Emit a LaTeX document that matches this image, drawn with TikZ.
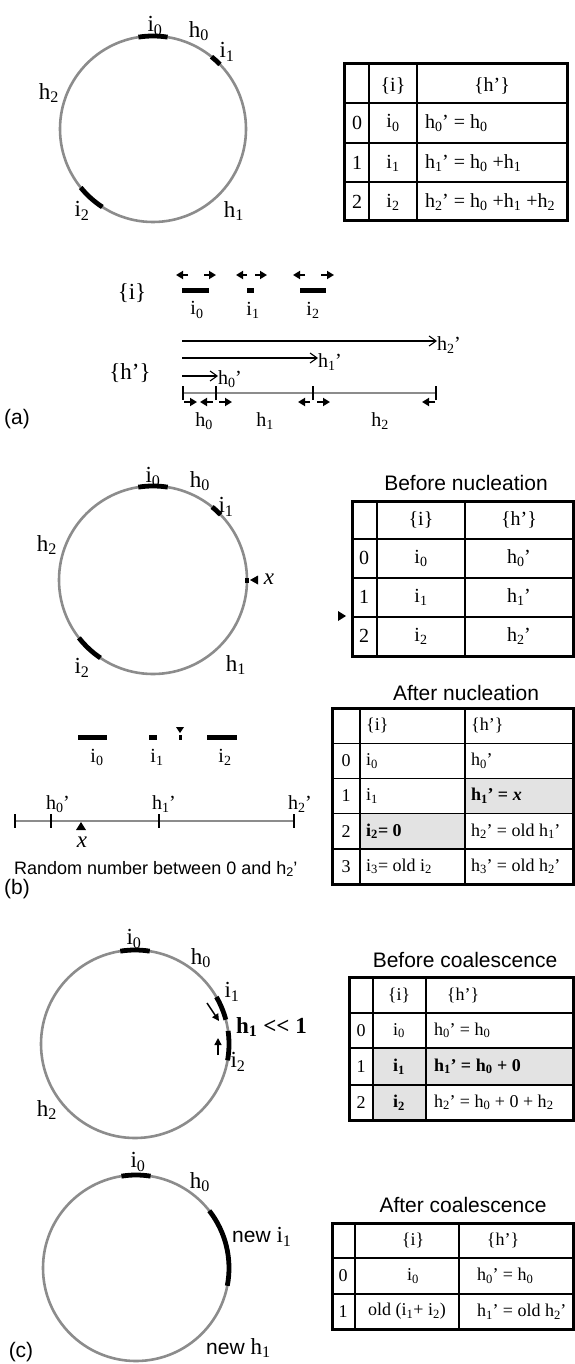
\documentclass[tikz,border=0pt]{standalone}
\usepackage{fontspec}
\setmainfont{Liberation Serif}
\setsansfont{Liberation Sans}
\usetikzlibrary{arrows.meta,calc}
\definecolor{ringgray}{gray}{0.55}
\definecolor{cellshade}{gray}{0.89}
\newcommand{\myi}[1]{i\textsubscript{#1}}
\newcommand{\myh}[1]{h\textsubscript{#1}}
\newcommand{\myhp}[1]{h\textsubscript{#1}\kern-0.5pt\textquoteright}
\newcommand{\fs}[1]{\fontsize{#1}{#1}\selectfont}
\begin{document}
\begin{tikzpicture}[x=1pt,y=-1pt,
  ring/.style={draw=ringgray,line width=2.6pt},
  bar/.style={draw=black,line width=4.8pt},
  lbl/.style={inner sep=0pt,font=\fs{23}},
  ttl/.style={inner sep=0pt,font=\sffamily\fs{21}},
  cA/.style={inner sep=0pt,font=\fs{20}},
  cB/.style={inner sep=0pt,font=\fs{20}},
  cC/.style={inner sep=0pt,font=\fs{18}},
  outerbox/.style={draw=black,line width=3pt},
  innerline/.style={draw=black,line width=1.4pt},
  harr/.style={draw=black,line width=1.1pt,-{Straight Barb[length=7pt,width=10pt,line width=1.1pt]}},
  sarr/.style={draw=black,line width=2.2pt,-{Triangle[length=7pt,width=8pt]}},
  carr/.style={draw=black,line width=1.4pt,-{Triangle[length=7pt,width=7pt]}},
  tickmark/.style={draw=black,line width=1.1pt},
  axisline/.style={draw=ringgray,line width=2.8pt}]
\useasboundingbox (0,0) rectangle (575,1364);
\fill[white] (0,0) rectangle (575,1364);

% ================= Panel (a) =================
\coordinate (A) at (153,129);
\draw[ring] (A) circle[radius=93pt];
\draw[bar] ([shift={(A)}]81:93pt) arc[start angle=81,end angle=99,radius=93pt];
\draw[bar] ([shift={(A)}]44:93pt) arc[start angle=44,end angle=51,radius=93pt];
\draw[bar] ([shift={(A)}]219:93pt) arc[start angle=219,end angle=237,radius=93pt];
\node[lbl] (a-i0) at (155,26) {\myi{0}};
\node[lbl] (a-h0) at (199,31) {\myh{0}};
\node[lbl] (a-i1) at (227,52) {\myi{1}};
\node[lbl] (a-h2) at (49,93) {\myh{2}};
\node[lbl] (a-i2) at (82,211) {\myi{2}};
\node[lbl] (a-h1) at (234,211) {\myh{1}};

% table (a)
\draw[innerline] (369,64) -- (369,221) (417,64) -- (417,221)
  (344,103) -- (567,103) (344,143) -- (567,143) (344,182) -- (567,182);
\draw[outerbox] (344,64) rectangle (567,221);
\node[cA] (ta-hi) at (393,86) {\{i\}};
\node[cA] (ta-hh) at (492,86) {\{h\textquoteright\}};
\node[cA] (ta-n0) at (357,123) {0};
\node[cA] (ta-n1) at (357,163) {1};
\node[cA] (ta-n2) at (357,202) {2};
\node[cA] (ta-i0) at (393,123) {\myi{0}};
\node[cA] (ta-i1) at (393,163) {\myi{1}};
\node[cA] (ta-i2) at (393,202) {\myi{2}};
\node[cA,anchor=west] (ta-h0) at (425,123) {\myhp{0} = \myh{0}};
\node[cA,anchor=west] (ta-h1) at (425,163) {\myhp{1} = \myh{0} +\myh{1}};
\node[cA,anchor=west] (ta-h2) at (425,202) {\myhp{2} = \myh{0} +\myh{1} +\myh{2}};

% line diagram (a)
\node[lbl] (la-i) at (132,293) {\{i\}};
\draw[bar,line width=5pt] (182,290) -- (209,290);
\draw[bar,line width=5pt] (247,290) -- (254,290);
\draw[bar,line width=5pt] (300,290) -- (326,290);
\node[cA] (la-i0) at (197,310) {\myi{0}};
\node[cA] (la-i1) at (253,310) {\myi{1}};
\node[cA] (la-i2) at (313,310) {\myi{2}};
\draw[sarr] (188,275) -- (176,275);
\draw[sarr] (204,275) -- (216,275);
\draw[sarr] (247,275) -- (236,275);
\draw[sarr] (255,275) -- (267,275);
\draw[sarr] (305,275) -- (293,275);
\draw[sarr] (321,275) -- (334,275);
\node[lbl] (la-h) at (130,373) {\{h\textquoteright\}};
\coordinate (hs2) at (182,341);
\coordinate (hs1) at (182,358);
\coordinate (hs0) at (182,376);
\node[cA,anchor=west] (la-h2p) at (437,345) {\myhp{2}};
\node[cA,anchor=west] (la-h1p) at (318,362) {\myhp{1}};
\node[cA,anchor=west] (la-h0p) at (218,379) {\myhp{0}};
\draw[harr] (hs2) -- (la-h2p.west |- hs2);
\draw[harr] (hs1) -- (la-h1p.west |- hs1);
\draw[harr] (hs0) -- (la-h0p.west |- hs0);
\draw[axisline] (183,393) -- (436,393);
\foreach \tx in {183,216,313,436} \draw[tickmark] (\tx,386) -- (\tx,400);
\draw[sarr] (184,402) -- (197,402);
\draw[sarr] (213,402) -- (200,402);
\draw[sarr] (219,402) -- (232,402);
\draw[sarr] (310,402) -- (298,402);
\draw[sarr] (317,402) -- (330,402);
\draw[sarr] (435,402) -- (422,402);
\node[cA] (la-h0) at (204,421) {\myh{0}};
\node[cA] (la-h1) at (265,421) {\myh{1}};
\node[cA] (la-h2) at (380,421) {\myh{2}};
\node[ttl] (lab-a) at (17,419) {(a)};

% ================= Panel (b) =================
\coordinate (B) at (153,580);
\draw[ring] (B) circle[radius=94pt];
\draw[bar] ([shift={(B)}]81:94pt) arc[start angle=81,end angle=99,radius=94pt];
\draw[bar] ([shift={(B)}]44:94pt) arc[start angle=44,end angle=51,radius=94pt];
\draw[bar] ([shift={(B)}]218:94pt) arc[start angle=218,end angle=236,radius=94pt];
\fill (245,577.5) rectangle (249,582.5);
\fill (250,580) -- (258,575.5) -- (258,584.5) -- cycle;
\node[lbl] (b-x) at (269,579) {\textit{x}};
\node[lbl] (b-i0) at (153,477) {\myi{0}};
\node[lbl] (b-h0) at (200,481) {\myh{0}};
\node[lbl] (b-i1) at (226,507) {\myi{1}};
\node[lbl] (b-h2) at (47,545) {\myh{2}};
\node[lbl] (b-i2) at (82,668) {\myi{2}};
\node[lbl] (b-h1) at (236,665) {\myh{1}};

% table before nucleation
\node[ttl] (tb-title) at (466,483) {Before nucleation};
\draw[innerline] (377,501) -- (377,656) (465,501) -- (465,656)
  (352,539) -- (574,539) (352,578) -- (574,578) (352,617) -- (574,617);
\draw[outerbox] (352,501) rectangle (573,656);
\node[cB] (tb-hi) at (421,520) {\{i\}};
\node[cB] (tb-hh) at (519,520) {\{h\textquoteright\}};
\node[cB] (tb-n0) at (364,558) {0};
\node[cB] (tb-n1) at (364,597) {1};
\node[cB] (tb-n2) at (364,636) {2};
\node[cB] (tb-i0) at (421,558) {\myi{0}};
\node[cB] (tb-i1) at (421,597) {\myi{1}};
\node[cB] (tb-i2) at (421,636) {\myi{2}};
\node[cB] (tb-h0) at (519,558) {\myhp{0}};
\node[cB] (tb-h1) at (519,597) {\myhp{1}};
\node[cB] (tb-h2) at (519,636) {\myhp{2}};
\fill (338,611) -- (346,616) -- (338,621) -- cycle;

% table after nucleation
\node[ttl] (tc-title) at (466,693) {After nucleation};
\fill[cellshade] (465,778.4) rectangle (573,813.6);
\fill[cellshade] (360,813.6) rectangle (465,848.8);
\draw[innerline] (360,708) -- (360,884) (465,708) -- (465,884)
  (332,743.2) -- (573,743.2) (332,778.4) -- (573,778.4)
  (332,813.6) -- (573,813.6) (332,848.8) -- (573,848.8);
\draw[outerbox] (332,708) rectangle (573,884);
\node[cC,anchor=west] (tc-hi) at (366,725.6) {\{i\}};
\node[cC,anchor=west] (tc-hh) at (471,725.6) {\{h\textquoteright\}};
\node[cC] (tc-n0) at (346,760.8) {0};
\node[cC] (tc-n1) at (346,796) {1};
\node[cC] (tc-n2) at (346,831.2) {2};
\node[cC] (tc-n3) at (346,866.4) {3};
\node[cC,anchor=west] (tc-i0) at (366,760.8) {\myi{0}};
\node[cC,anchor=west] (tc-i1) at (366,796) {\myi{1}};
\node[cC,anchor=west] (tc-i2) at (366,831.2) {\bfseries\myi{2}= 0};
\node[cC,anchor=west] (tc-i3) at (366,866.4) {\myi{3}= old \myi{2}};
\node[cC,anchor=west] (tc-h0) at (471,760.8) {\myhp{0}};
\node[cC,anchor=west] (tc-h1) at (471,796) {\bfseries\myhp{1} = \textit{x}};
\node[cC,anchor=west] (tc-h2) at (471,831.2) {\myhp{2} = old \myhp{1}};
\node[cC,anchor=west] (tc-h3) at (471,866.4) {\myhp{3} = old \myhp{2}};

% line diagram (b)
\draw[bar,line width=5pt] (78,737) -- (107,737);
\draw[bar,line width=5pt] (149,737) -- (157,737);
\draw[bar,line width=5pt] (207,737) -- (237,737);
\fill (178.5,734.5) rectangle (181.5,739.5);
\fill (176,727) -- (184,727) -- (180,733) -- cycle;
\node[cB] (lb-i0) at (97,757) {\myi{0}};
\node[cB] (lb-i1) at (157,757) {\myi{1}};
\node[cB] (lb-i2) at (225,757) {\myi{2}};
\draw[axisline] (15,821) -- (294,821);
\foreach \tx in {15,51,159,294} \draw[tickmark] (\tx,814) -- (\tx,828);
\node[cB] (lb-h0) at (58,804) {\myhp{0}};
\node[cB] (lb-h1) at (164,804) {\myhp{1}};
\node[cB] (lb-h2) at (300,804) {\myhp{2}};
\fill (81,822) -- (76,830) -- (86,830) -- cycle;
\node[lbl] (lb-x) at (82,842) {\textit{x}};
\node[inner sep=0pt,font=\sffamily\fs{18},anchor=west] (lb-rand) at (14,869)
  {Random number between 0 and \myhp{2}};
\node[ttl] (lab-b) at (17,889) {(b)};

% ================= Panel (c) =================
\coordinate (C1) at (135,1044);
\draw[ring] (C1) circle[radius=94pt];
\draw[bar] ([shift={(C1)}]81:94pt) arc[start angle=81,end angle=99,radius=94pt];
\draw[bar] ([shift={(C1)}]15:94pt) arc[start angle=15,end angle=30,radius=94pt];
\draw[bar] ([shift={(C1)}]-10:94pt) arc[start angle=-10,end angle=8,radius=94pt];
\node[lbl] (c-i0) at (134,939) {\myi{0}};
\node[lbl] (c-h0) at (201,958) {\myh{0}};
\node[lbl] (c-i1) at (232,992) {\myi{1}};
\node[inner sep=0pt,font=\bfseries\fs{23},anchor=west] (c-h1) at (236,1027) {\myh{1} <{}< 1};
\node[lbl] (c-i2) at (238,1062) {\myi{2}};
\node[lbl] (c-h2) at (47,1110) {\myh{2}};
\coordinate (ca1s) at (207,1003);
\coordinate (ca1e) at (219,1021);
\coordinate (ca2s) at (218,1055);
\coordinate (ca2e) at (218,1038);
\draw[carr] (ca1s) -- (ca1e);
\draw[carr] (ca2s) -- (ca2e);

% table before coalescence
\node[ttl] (td-title) at (465,960) {Before coalescence};
\fill[cellshade] (373,1048) rectangle (573,1085);
\fill[cellshade] (373,1085) rectangle (426,1120);
\draw[innerline] (373,977) -- (373,1120) (426,977) -- (426,1120)
  (349,1013) -- (573,1013) (349,1048) -- (573,1048) (349,1085) -- (573,1085);
\draw[outerbox] (349,977) rectangle (573,1120);
\node[cC] (td-hi) at (399,995) {\{i\}};
\node[cC] (td-hh) at (463,995) {\{h\textquoteright\}};
\node[cC] (td-n0) at (361,1030.5) {0};
\node[cC] (td-n1) at (361,1066.5) {1};
\node[cC] (td-n2) at (361,1102.5) {2};
\node[cC] (td-i0) at (399,1030.5) {\myi{0}};
\node[cC] (td-i1) at (399,1066.5) {\bfseries\myi{1}};
\node[cC] (td-i2) at (399,1102.5) {\bfseries\myi{2}};
\node[cC,anchor=west] (td-h0) at (434,1030.5) {\myhp{0} = \myh{0}};
\node[cC,anchor=west] (td-h1) at (434,1066.5) {\bfseries\myhp{1} = \myh{0} + 0};
\node[cC,anchor=west] (td-h2) at (434,1102.5) {\myhp{2} = \myh{0} + 0 + \myh{2}};

% lower circle
\coordinate (C2) at (136,1268);
\draw[ring] (C2) circle[radius=93pt];
\draw[bar] ([shift={(C2)}]81:93pt) arc[start angle=81,end angle=99,radius=93pt];
\draw[bar] ([shift={(C2)}]-11:93pt) arc[start angle=-11,end angle=38,radius=93pt];
\node[lbl] (e-i0) at (138,1162) {\myi{0}};
\node[lbl] (e-h0) at (200,1182) {\myh{0}};
\node[lbl,anchor=west] (e-i1) at (232,1237) {\sffamily\fs{21}new \rmfamily\fs{23}\myi{1}};
\node[lbl,anchor=west] (e-h1) at (206,1348) {\sffamily\fs{21}new \rmfamily\fs{23}\myh{1}};
\node[ttl] (lab-c) at (21,1352) {(c)};

% table after coalescence
\node[ttl] (te-title) at (463,1205) {After coalescence};
\draw[innerline] (355,1223) -- (355,1329) (459,1223) -- (459,1329)
  (332,1258) -- (573,1258) (332,1294) -- (573,1294);
\draw[outerbox] (332,1223) rectangle (573,1329);
\node[cC] (te-hi) at (413,1240.5) {\{i\}};
\node[cC] (te-hh) at (503,1240.5) {\{h\textquoteright\}};
\node[cC] (te-n0) at (343,1276) {0};
\node[cC] (te-n1) at (343,1311.5) {1};
\node[cC] (te-i0) at (413,1276) {\myi{0}};
\node[cC] (te-i1) at (407,1311.5) {old (\myi{1}+ \myi{2})};
\node[cC,anchor=west] (te-h0) at (477,1276) {\myhp{0} = \myh{0}};
\node[cC,anchor=west] (te-h1) at (477,1311.5) {\myhp{1} = old \myhp{2}};
\end{tikzpicture}
\end{document}
